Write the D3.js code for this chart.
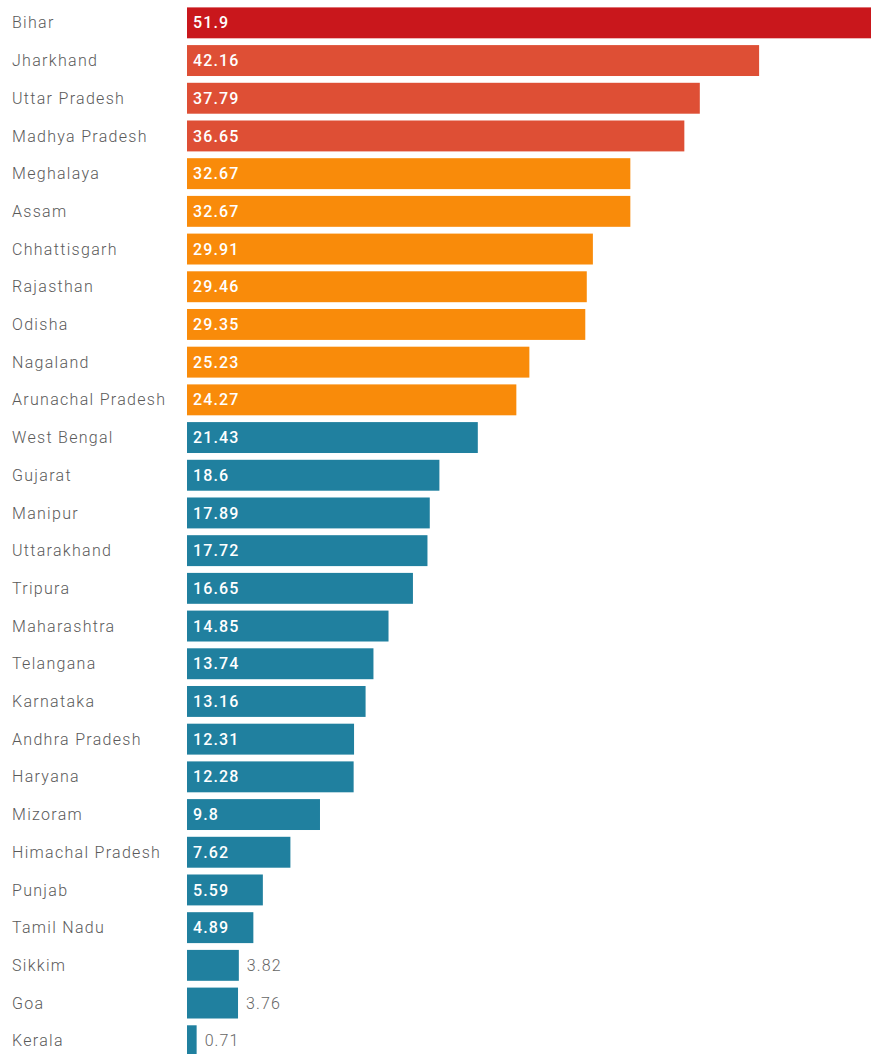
<!DOCTYPE html>
<html>
<head>
<meta charset="utf-8">
<script src="https://cdn.jsdelivr.net/npm/d3@7"></script>
<style>
  body { margin: 0; background: #fff; }
  .cat { font-family: Roboto, sans-serif; font-weight: 300; font-size: 16px; letter-spacing: 1.3px; fill: #5a5a5a; }
  .val { font-family: Roboto, sans-serif; font-size: 16px; letter-spacing: 1.1px; }
</style>
</head>
<body>
<div id="viz"></div>
<script>
var width = 871;
var height = 1054;

var states = ["Bihar", "Jharkhand", "Uttar Pradesh", "Madhya Pradesh", "Meghalaya", "Assam",
  "Chhattisgarh", "Rajasthan", "Odisha", "Nagaland", "Arunachal Pradesh", "West Bengal",
  "Gujarat", "Manipur", "Uttarakhand", "Tripura", "Maharashtra", "Telangana", "Karnataka",
  "Andhra Pradesh", "Haryana", "Mizoram", "Himachal Pradesh", "Punjab", "Tamil Nadu",
  "Sikkim", "Goa", "Kerala"];
var values = [51.9, 42.16, 37.79, 36.65, 32.67, 32.67, 29.91, 29.46, 29.35, 25.23, 24.27,
  21.43, 18.6, 17.89, 17.72, 16.65, 14.85, 13.74, 13.16, 12.31, 12.28, 9.8, 7.62, 5.59,
  4.89, 3.82, 3.76, 0.71];
// colour group of each bar
var groups = ["top", "high", "high", "high", "mid", "mid", "mid", "mid", "mid", "mid", "mid",
  "low", "low", "low", "low", "low", "low", "low", "low", "low", "low", "low", "low", "low",
  "low", "low", "low", "low"];

var colors = { top: "#c9171c", high: "#de4f35", mid: "#f98b0a", low: "#20809f" };

var data = states.map(function(s, i) { return { state: s, value: values[i], group: groups[i] }; });

var svg = d3.select("#viz").append("svg")
    .attr("width", width)
    .attr("height", height);

var x0 = 187;
var x = d3.scaleLinear().domain([0, 10]).range([x0, x0 + 135.7]);

var y = d3.scaleBand()
    .domain(states)
    .range([4, 4 + 28 * 37.7])
    .paddingInner(0.18)
    .paddingOuter(0.09);

var row = svg.selectAll(".row")
    .data(data)
  .enter().append("g")
    .attr("class", "row")
    .attr("transform", function(d) { return "translate(0," + y(d.state) + ")"; });

row.append("text")
    .attr("class", "cat")
    .attr("x", 12)
    .attr("y", y.bandwidth() / 2)
    .attr("dy", "0.35em")
    .text(function(d) { return d.state; });

row.append("rect")
    .attr("x", x0)
    .attr("width", function(d) { return x(d.value) - x0; })
    .attr("height", y.bandwidth())
    .attr("fill", function(d) { return colors[d.group]; });

// small bars get their value outside, in grey
function outside(d) { return (x(d.value) - x0) < 60; }

row.append("text")
    .attr("class", "val")
    .attr("x", function(d) { return outside(d) ? x(d.value) + 8 : x0 + 6; })
    .attr("y", y.bandwidth() / 2)
    .attr("dy", "0.35em")
    .style("fill", function(d) { return outside(d) ? "#666" : "#fff"; })
    .style("font-weight", function(d) { return outside(d) ? 300 : 500; })
    .text(function(d) { return d.value; });
</script>
</body>
</html>
